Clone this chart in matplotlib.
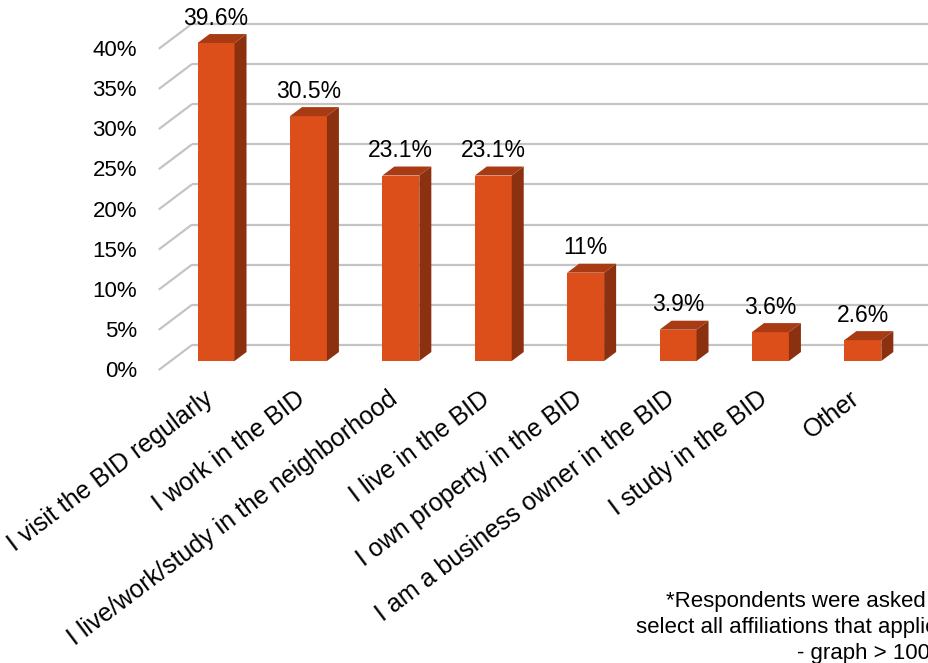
import matplotlib.pyplot as plt
from matplotlib.patches import Polygon

plt.rcParams['font.family'] = ['Liberation Sans', 'DejaVu Sans']

# data
categories = [
    "I visit the BID regularly",
    "I work in the BID",
    "I live/work/study in the neighborhood",
    "I live in the BID",
    "I own property in the BID",
    "I am a business owner in the BID",
    "I study in the BID",
    "Other",
]
values = [39.6, 30.5, 23.1, 23.1, 11, 3.9, 3.6, 2.6]
value_labels = ["39.6%", "30.5%", "23.1%", "23.1%", "11%", "3.9%", "3.6%", "2.6%"]
ticks = [0, 5, 10, 15, 20, 25, 30, 35, 40]
tick_labels = [f"{t}%" for t in ticks]
note = "*Respondents were asked to\nselect all affiliations that applied\n- graph > 100%"

# colours
c_front = "#dc4f1a"
c_top = "#a83b14"
c_side = "#8b3110"
c_grid = "#c4c4c4"

# pseudo-3d geometry (in data units)
bar_w = 0.40
depth_x, depth_y = 0.13, 1.12        # bar depth offset
wall_back_x, wall_back_dy = -0.26, 2.0
wall_front_x, wall_front_dy = -0.62, -1.12

fig = plt.figure(figsize=(9.29, 6.63), dpi=100)
ax = fig.add_axes([0, 0, 1, 1])
ax.set_xlim(-2.338, 7.716)
ax.set_ylim(-37.61, 44.96)
ax.axis("off")

# gridlines: back wall + left side wall
for t in ticks:
    ax.plot([wall_back_x, 9], [t + wall_back_dy] * 2, color=c_grid, lw=1.6, zorder=1,
            solid_capstyle="butt")
    ax.plot([wall_front_x, wall_back_x], [t + wall_front_dy, t + wall_back_dy],
            color=c_grid, lw=1.6, zorder=1, solid_capstyle="butt")

# tick labels
for t, lab in zip(ticks, tick_labels):
    ax.text(-0.855, t + wall_front_dy - 0.2, lab, ha="right", va="center", fontsize=16, color="black")

# bars
x = list(range(len(values)))
ax.bar(x, values, width=bar_w, color=c_front, zorder=3, linewidth=0)
for i, v in zip(x, values):
    l, r = i - bar_w / 2, i + bar_w / 2
    ax.add_patch(Polygon([(l, v), (r, v), (r + depth_x, v + depth_y), (l + depth_x, v + depth_y)],
                         closed=True, facecolor=c_top, edgecolor="none", zorder=3))
    ax.add_patch(Polygon([(r, 0), (r + depth_x, depth_y), (r + depth_x, v + depth_y), (r, v)],
                         closed=True, facecolor=c_side, edgecolor="none", zorder=3))

# value labels
for i, v, lab in zip(x, values, value_labels):
    ax.text(i, v + 3.1, lab, ha="center", va="center", fontsize=16.5, color="black", zorder=4)

# category labels
for i, cat in zip(x, categories):
    ax.text(i - 0.065, -4.36, cat, ha="right", va="center", rotation=37,
            rotation_mode="anchor", fontsize=18, color="black")

# footnote (runs off the right edge as in the original)
fig.text(950 / 929, 1 - 591 / 663, note, ha="right", va="top", fontsize=16,
         linespacing=1.3, color="black")

fig.savefig("out.png", dpi=100)
